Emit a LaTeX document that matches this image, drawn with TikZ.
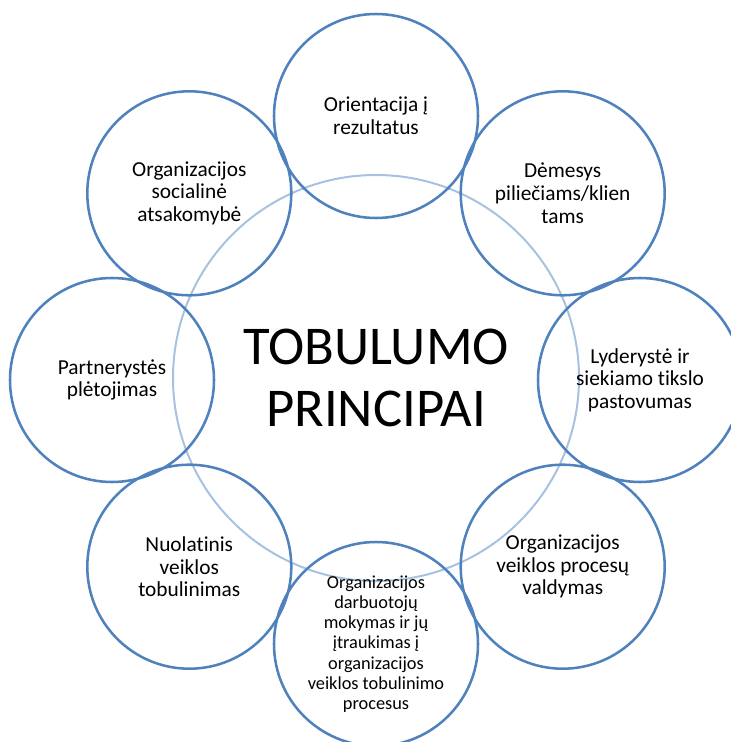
\documentclass[tikz,border=0pt]{standalone}
\usepackage{fontspec}
\setmainfont{Carlito}[RawFeature={-liga,-clig,-calt,-dlig}]
\definecolor{ringblue}{RGB}{79,129,189}
\definecolor{lightblue}{RGB}{167,194,224}
\begin{document}
\begin{tikzpicture}[x=0.75pt,y=-0.75pt,
  petal/.style={circle, draw=ringblue, line width=1.9pt, minimum size=153pt, inner sep=0pt, outer sep=0pt, align=center, font=\fontsize{16}{17}\selectfont},
  smallpetal/.style={petal, font=\fontsize{13.75}{15.2}\selectfont},
  hub/.style={circle, draw=lightblue, line width=1.5pt, minimum size=304.5pt, inner sep=0pt, outer sep=0pt, align=center, font=\fontsize{41}{46.5}\selectfont}]
\useasboundingbox (0,0) rectangle (731,742);
\node[hub] (hub) at (376,378) {TOBULUMO\\PRINCIPAI};
\node[petal] (top) at (376,116) {Orientacija į\\rezultatus};
\node[petal] (ur) at (562.7,193.3) {Dėmesys\\piliečiams/klien\\tams};
\node[petal] (r) at (640,380) {Lyderystė ir\\siekiamo tikslo\\pastovumas};
\node[petal] (lr) at (562.7,566.7) {Organizacijos\\veiklos procesų\\valdymas};
\node[smallpetal] (b) at (376,644) {Organizacijos\\darbuotojų\\mokymas ir jų\\įtraukimas į\\organizacijos\\veiklos tobulinimo\\procesus};
\node[petal] (ll) at (189.3,566.7) {Nuolatinis\\veiklos\\tobulinimas};
\node[petal] (l) at (112,380) {Partnerystės\\plėtojimas};
\node[petal] (ul) at (189.3,193.3) {Organizacijos\\socialinė\\atsakomybė};
\end{tikzpicture}
\end{document}
